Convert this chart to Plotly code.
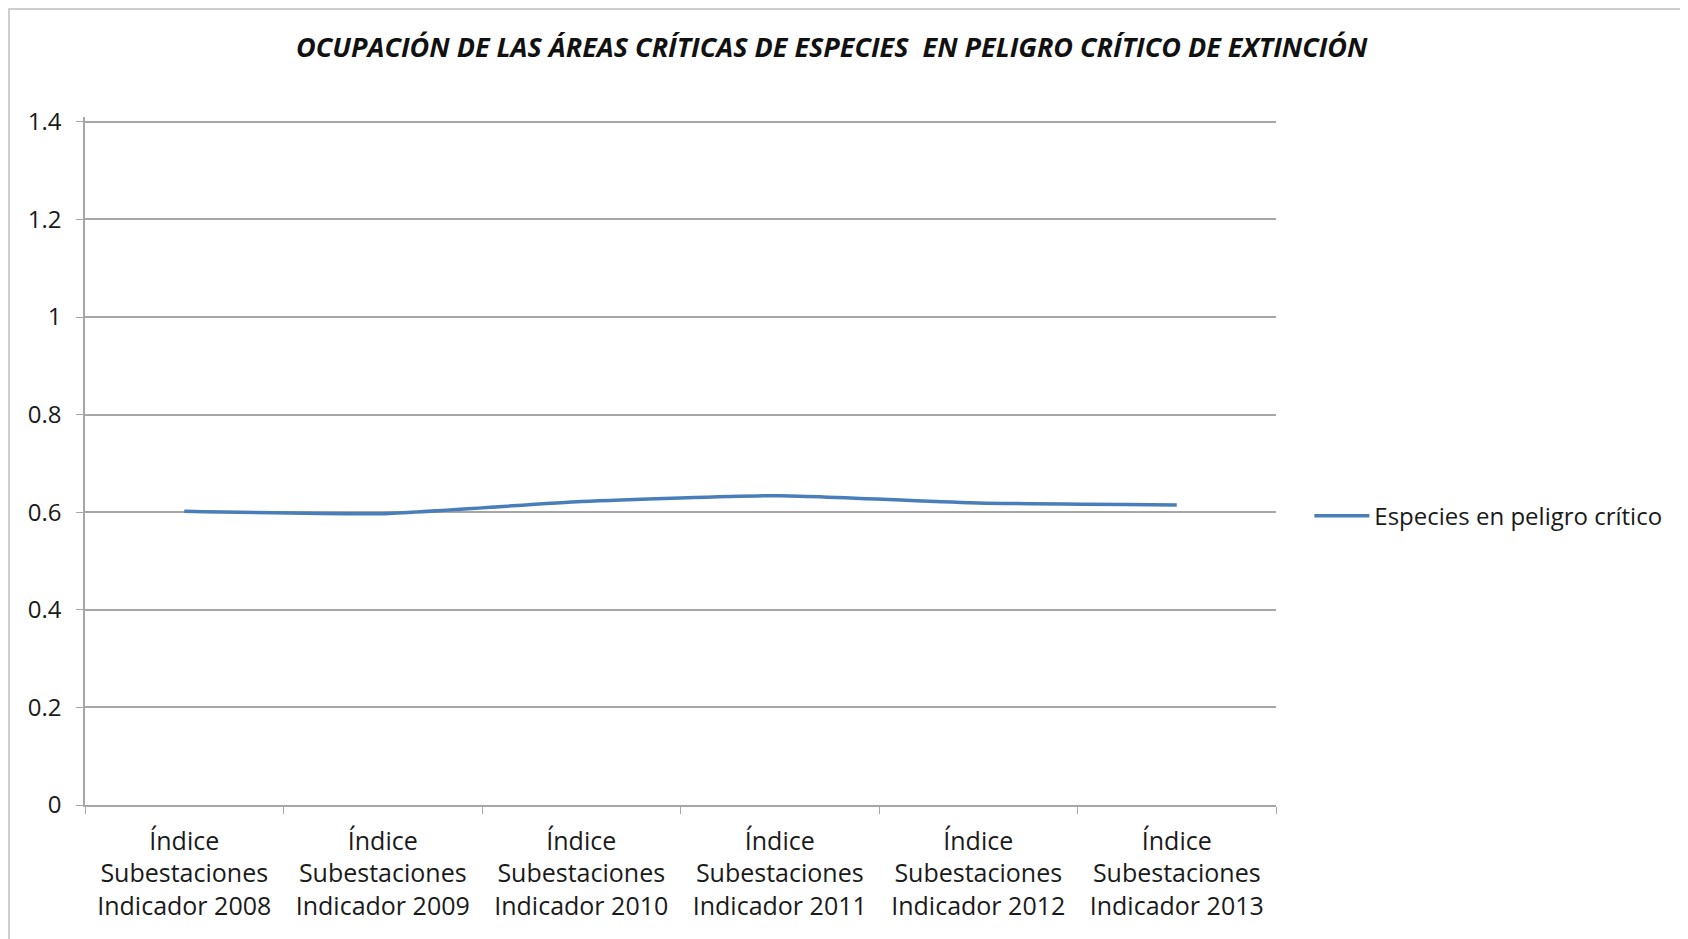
import plotly.graph_objects as go

# data
categories = [
    "Índice<br>Subestaciones<br>Indicador 2008",
    "Índice<br>Subestaciones<br>Indicador 2009",
    "Índice<br>Subestaciones<br>Indicador 2010",
    "Índice<br>Subestaciones<br>Indicador 2011",
    "Índice<br>Subestaciones<br>Indicador 2012",
    "Índice<br>Subestaciones<br>Indicador 2013",
]
valores = [0.602, 0.597, 0.622, 0.634, 0.619, 0.615]
serie = "Especies en peligro crítico"
titulo = "OCUPACIÓN DE LAS ÁREAS CRÍTICAS DE ESPECIES  EN PELIGRO CRÍTICO DE EXTINCIÓN"
y_ticks = [0, 0.2, 0.4, 0.6, 0.8, 1, 1.2, 1.4]
y_text = ["0", "0.2", "0.4", "0.6", "0.8", "1", "1.2", "1.4"]

FONT = "Open Sans"
INK = "#1a1a1a"
GRID = "#a6a6a6"

fig = go.Figure(go.Scatter(
    x=categories, y=valores, name=serie, mode="lines",
    line=dict(color="#4a7ebb", width=3.5, shape="spline", smoothing=0.5),
))

fig.update_layout(
    width=1688, height=939,
    paper_bgcolor="white", plot_bgcolor="white",
    font=dict(family=FONT, color=INK, size=24),
    title=dict(text="<b><i>" + titulo + "</i></b>", x=0.488, xanchor="center",
               y=0.958, yanchor="middle",
               font=dict(family=FONT, size=27, color="#111111")),
    margin=dict(l=77, r=420, t=109, b=142),
    showlegend=True,
    legend=dict(x=1.028, xanchor="left", y=0.42, yanchor="middle",
                font=dict(size=24, color=INK), bgcolor="rgba(0,0,0,0)",
                itemwidth=55),
    xaxis=dict(
        type="category", range=[-0.5, 5.5],
        showgrid=False, showline=True, linecolor=GRID, linewidth=1.5,
        ticks="outside", tickson="boundaries", ticklen=7, tickcolor=GRID,
        tickfont=dict(size=25, color=INK), ticklabelstandoff=13,
    ),
    yaxis=dict(
        range=[0, 1.41], tickvals=y_ticks, ticktext=y_text,
        showgrid=True, gridcolor=GRID, gridwidth=1.5,
        showline=True, linecolor=GRID, linewidth=1.5,
        ticks="outside", ticklen=7, tickcolor=GRID,
        tickfont=dict(size=24, color=INK), zeroline=False,
        ticklabelstandoff=10,
    ),
    shapes=[dict(type="rect", xref="paper", yref="paper",
                 x0=-0.0638, x1=1.5, y0=-0.5, y1=1.157,
                 line=dict(color="#bfbfbf", width=1.5), layer="below")],
)

fig.write_html("out.html")
